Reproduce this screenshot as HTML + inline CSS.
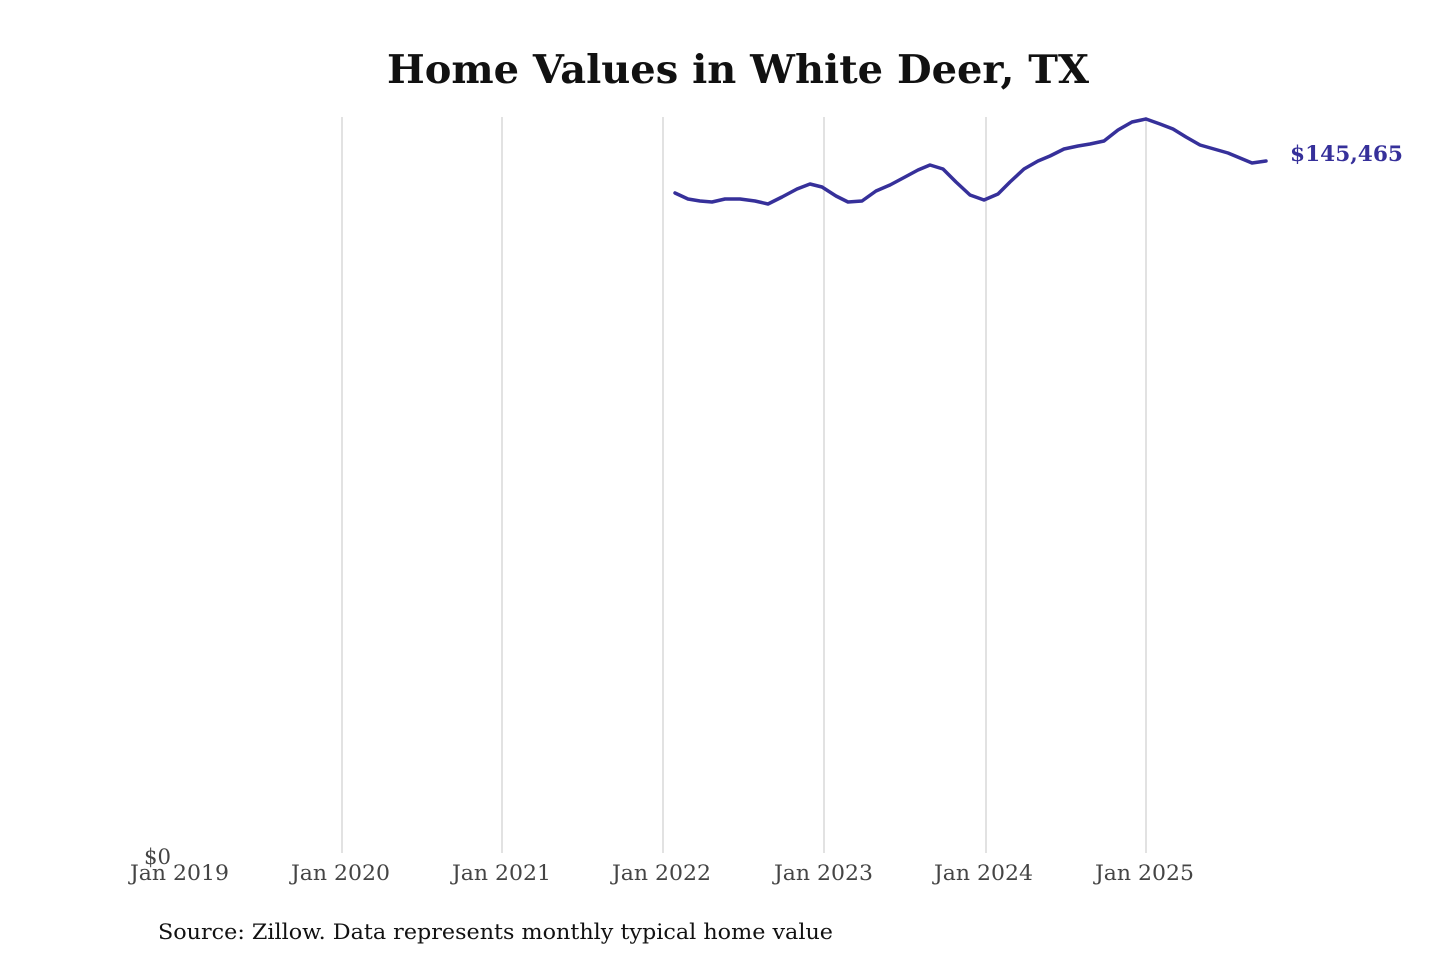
<!DOCTYPE html>
<html><head><meta charset="utf-8"><style>
html,body{margin:0;padding:0;background:#fff;}
</style></head><body>
<svg width="1440" height="960" xmlns="http://www.w3.org/2000/svg" style="display:block">
<rect width="1440" height="960" fill="#fff"/>
<text x="387" y="83" textLength="702" lengthAdjust="spacingAndGlyphs" font-family="DejaVu Serif, serif" font-weight="bold" font-size="39" fill="#111">Home Values in White Deer, TX</text>
<g stroke="#c4c4c4" stroke-width="1">
<line x1="342" y1="117" x2="342" y2="853"/>
<line x1="502" y1="117" x2="502" y2="853"/>
<line x1="663" y1="117" x2="663" y2="853"/>
<line x1="824" y1="117" x2="824" y2="853"/>
<line x1="986" y1="117" x2="986" y2="853"/>
<line x1="1146" y1="117" x2="1146" y2="853"/>
</g>
<polyline fill="none" stroke="#36309a" stroke-width="3.5" stroke-linejoin="round" stroke-linecap="round" points="675,193 688,199 700,201 712,202 725,199 740,199 755,201 768,204 782,197 797,189 810,184 822,187 836,196 848,202 862,201 876,191 890,185 905,177 918,170 930,165 943,169 956,182 970,195 984,200 998,194 1010,182 1024,169 1038,161 1050,156 1064,149 1078,146 1090,144 1104,141 1118,130 1132,122 1146,119 1160,124 1173,129 1186,137 1200,145 1214,149 1228,153 1240,158 1252,163 1266,161"/>
<text x="1290" y="161" textLength="113" lengthAdjust="spacingAndGlyphs" font-family="DejaVu Serif, serif" font-weight="bold" font-size="21" fill="#36309a">$145,465</text>
<g font-family="DejaVu Serif, serif" font-size="21" fill="#444">
<text x="144" y="864" textLength="27" lengthAdjust="spacingAndGlyphs">$0</text>
<text x="130" y="880" textLength="99" lengthAdjust="spacingAndGlyphs">Jan 2019</text>
<text x="291" y="880" textLength="99" lengthAdjust="spacingAndGlyphs">Jan 2020</text>
<text x="452" y="880" textLength="99" lengthAdjust="spacingAndGlyphs">Jan 2021</text>
<text x="612" y="880" textLength="99" lengthAdjust="spacingAndGlyphs">Jan 2022</text>
<text x="774" y="880" textLength="99" lengthAdjust="spacingAndGlyphs">Jan 2023</text>
<text x="934" y="880" textLength="99" lengthAdjust="spacingAndGlyphs">Jan 2024</text>
<text x="1095" y="880" textLength="99" lengthAdjust="spacingAndGlyphs">Jan 2025</text>
</g>
<text x="158" y="939" textLength="675" lengthAdjust="spacingAndGlyphs" font-family="DejaVu Serif, serif" font-size="21" fill="#111">Source: Zillow. Data represents monthly typical home value</text>
</svg>
</body></html>
